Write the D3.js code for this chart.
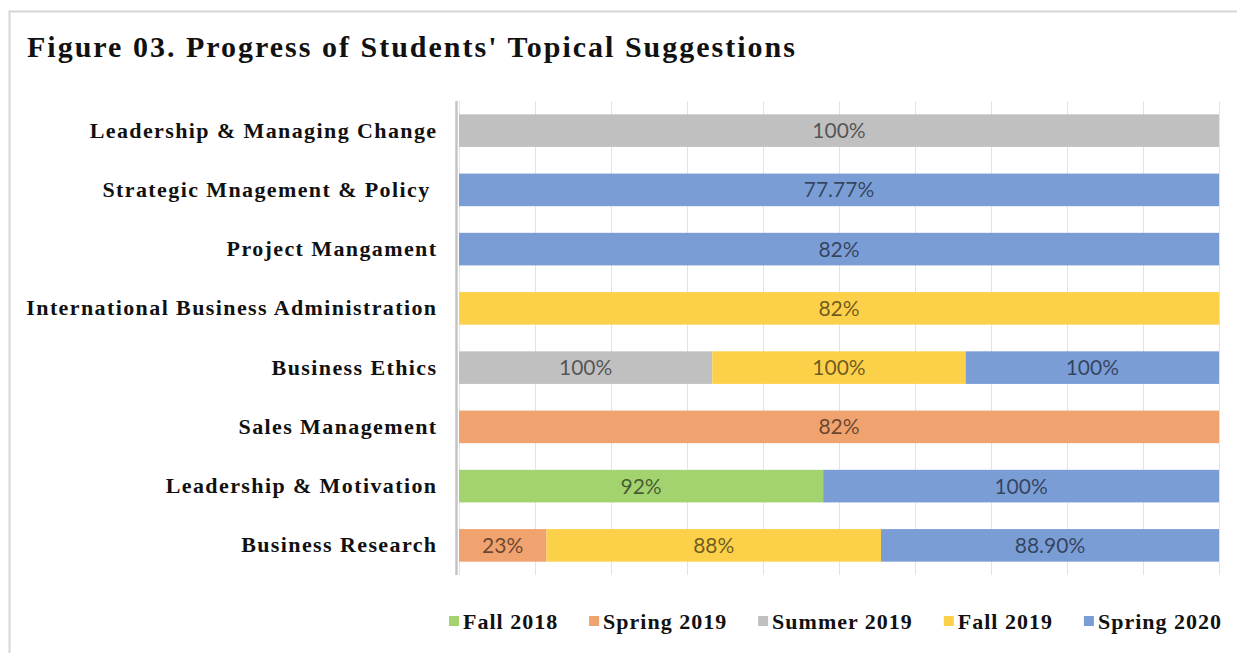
<!DOCTYPE html>
<html>
<head>
<meta charset="utf-8">
<script src="https://cdn.jsdelivr.net/npm/d3@7"></script>
<style>
  body { margin: 0; background: #fff; }
  svg { display: block; }
</style>
</head>
<body>
<div id="chart"></div>
<script>
const categories = [
  "Leadership & Managing Change",
  "Strategic Mnagement & Policy ",
  "Project Mangament",
  "International Business Administration",
  "Business Ethics",
  "Sales Management",
  "Leadership & Motivation",
  "Business Research"
];
const seriesNames = ["Fall 2018", "Spring 2019", "Summer 2019", "Fall 2019", "Spring 2020"];
// one value per category, 0 = no entry
const fall2018   = [0, 0, 0, 0, 0, 0, 92, 0];
const spring2019 = [0, 0, 0, 0, 0, 82, 0, 23];
const summer2019 = [100, 0, 0, 0, 100, 0, 0, 0];
const fall2019   = [0, 0, 0, 82, 100, 0, 0, 88];
const spring2020 = [0, 77.77, 82, 0, 100, 0, 100, 88.9];
const seriesColors = ["#a3d36f", "#f0a26f", "#c0c0c0", "#fdd04a", "#7a9dd6"];

const W = 1237, H = 653;
const serif = "'Liberation Serif', 'Times New Roman', serif";
const svg = d3.select("#chart").append("svg")
  .attr("width", W)
  .attr("height", H);

// frame
svg.append("path")
  .attr("d", "M9.5," + H + "V11.5H" + W)
  .attr("fill", "none")
  .attr("stroke", "#d6d6d6")
  .attr("stroke-width", 2);

svg.append("text")
  .attr("x", 27)
  .attr("y", 57)
  .style("font-family", serif)
  .style("font-weight", "bold")
  .style("font-size", "30px")
  .style("letter-spacing", "2px")
  .attr("fill", "#111")
  .text("Figure 03. Progress of Students' Topical Suggestions");

const table = categories.map((c, i) => ({
  category: c,
  "Fall 2018": fall2018[i],
  "Spring 2019": spring2019[i],
  "Summer 2019": summer2019[i],
  "Fall 2019": fall2019[i],
  "Spring 2020": spring2020[i]
}));

const stacked = d3.stack()
  .keys(seriesNames)
  .offset(d3.stackOffsetExpand)(table);

const x = d3.scaleLinear().domain([0, 1]).range([459, 1219]);
const y = d3.scaleBand().domain(categories).range([101, 575]).paddingInner(0.45).paddingOuter(0.225);

// gridlines
svg.append("g")
  .attr("transform", "translate(0,101)")
  .call(d3.axisBottom(x).ticks(10).tickSize(474).tickFormat(""))
  .call(g => g.select(".domain").remove())
  .call(g => g.selectAll(".tick line").attr("stroke", "#e3e3e3").attr("stroke-width", 1));

// bars
const layers = svg.append("g")
  .selectAll("g")
  .data(stacked)
  .join("g")
  .attr("fill", (d, i) => seriesColors[i]);

layers.selectAll("rect")
  .data(d => d.filter(s => s[1] - s[0] > 0))
  .join("rect")
  .attr("x", d => x(d[0]))
  .attr("y", d => y(d.data.category))
  .attr("width", d => x(d[1]) - x(d[0]))
  .attr("height", y.bandwidth());

const fmt = v => Number.isInteger(v) ? v + "%" : v.toFixed(2) + "%";

layers.selectAll("text")
  .data(function (d) { const key = d.key; return d.filter(s => s[1] - s[0] > 0).map(s => ({ s: s, v: s.data[key] })); })
  .join("text")
  .attr("x", d => (x(d.s[0]) + x(d.s[1])) / 2)
  .attr("y", d => y(d.s.data.category) + y.bandwidth() / 2)
  .attr("dy", "0.36em")
  .attr("text-anchor", "middle")
  .attr("fill", "#000")
  .attr("fill-opacity", 0.58)
  .style("font-family", "Lato, 'Open Sans', sans-serif")
  .style("font-size", "21px")
  .text(d => fmt(d.v));

// category axis
const yAxis = svg.append("g")
  .attr("transform", "translate(456.5,0)")
  .call(d3.axisLeft(y).tickSize(0).tickPadding(19));
yAxis.select(".domain")
  .attr("d", "M0,101V575")
  .attr("stroke", "#c4c4c4")
  .attr("stroke-width", 2.5);
yAxis.selectAll(".tick text")
  .style("font-family", serif)
  .style("font-weight", "bold")
  .style("font-size", "22px")
  .style("letter-spacing", "1.4px")
  .style("white-space", "pre")
  .attr("fill", "#111");

// legend
const legend = svg.append("g")
  .style("font-family", serif)
  .style("font-weight", "bold")
  .style("font-size", "22px")
  .style("letter-spacing", "1px");
const items = legend.selectAll("g")
  .data(seriesNames)
  .join("g");
items.append("rect")
  .attr("width", 10)
  .attr("height", 10)
  .attr("y", 616)
  .attr("fill", (d, i) => seriesColors[i]);
items.append("text")
  .attr("x", 14)
  .attr("y", 629)
  .attr("fill", "#111")
  .text(d => d);
// spread items from the left square to the right end of the last label
const widths = items.nodes().map(n => 14 + n.querySelector("text").getComputedTextLength());
const gap = (1222 - 449 - d3.sum(widths)) / (widths.length - 1);
let pos = 449;
items.attr("transform", (d, i) => { const t = "translate(" + pos + ",0)"; pos += widths[i] + gap; return t; });
</script>
</body>
</html>
